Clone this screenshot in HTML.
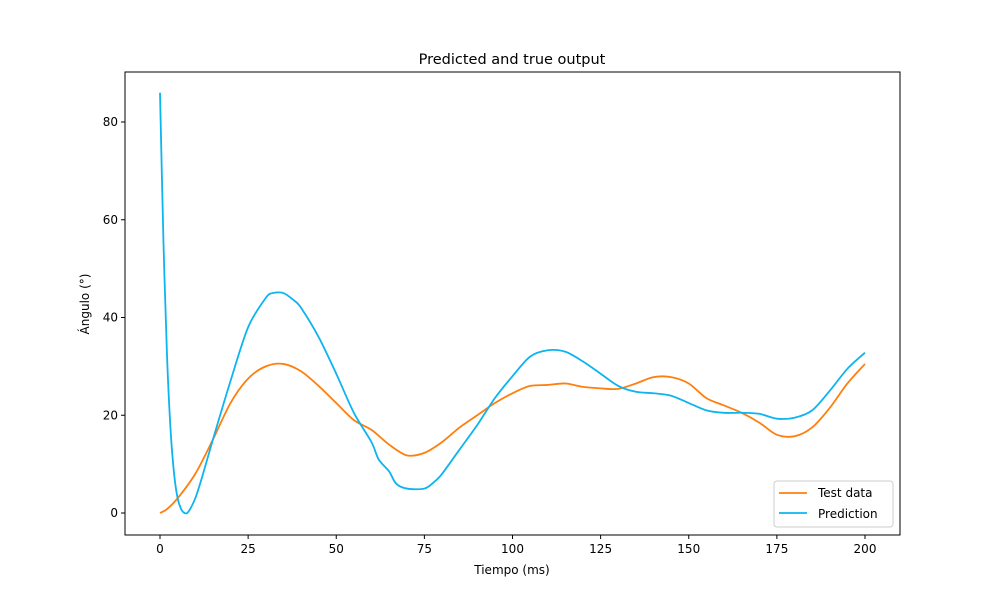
<!DOCTYPE html>
<html><head><meta charset="utf-8"><style>
body{margin:0;background:#fff}
svg text{font-family:"DejaVu Sans","Liberation Sans",sans-serif;fill:#000}
</style></head><body>
<svg id="chart" width="1000" height="600" xmlns="http://www.w3.org/2000/svg"></svg>
<script>
const xTicks=[0,25,50,75,100,125,150,175,200];
const yTicks=[0,20,40,60,80];
const testT=[0,2,5,10,15,20,25,30,35,40,45,50,55,60,65,70,75,80,85,90,95,100,105,110,115,120,125,130,135,140,145,150,155,160,165,170,175,180,185,190,195,200];
const testV=[0,0.8,3,8,15,22.5,27.5,30,30.5,29,26,22.5,19,17,14,11.8,12.3,14.5,17.5,20,22.5,24.5,26,26.2,26.5,25.8,25.5,25.4,26.5,27.8,27.8,26.5,23.5,22,20.5,18.5,16,15.7,17.5,21.5,26.5,30.5];
const predT=[0,1,2,3,4,5,6,7,8,10,12,15,20,25,30,32,35,38,40,45,50,55,60,62,65,67,70,75,78,80,85,90,95,100,105,110,115,120,125,130,135,140,145,150,155,160,165,170,175,180,185,190,195,200];
const predV=[86,55,32,17,8,3,0.8,0,0.2,3,7.5,15,27,38,44,45,45,43.5,42,36,28.5,20.5,14.5,11,8.5,6,5,5,6.5,8,13,18,23.5,28,32,33.3,33,31,28.5,26,24.8,24.5,24,22.5,21,20.5,20.5,20.3,19.3,19.5,21,25,29.5,32.8];
const L=125,R=900,T=72,B=535;
const xs=v=>160+v*3.525, ys=v=>513-v*4.8875;
const svg=document.getElementById('chart');const NS='http://www.w3.org/2000/svg';
function mk(tag,at,txt){const e=document.createElementNS(NS,tag);for(const k in at)e.setAttribute(k,at[k]);if(txt!=null)e.textContent=txt;svg.appendChild(e);return e;}
function smooth(p){let d='M'+p[0][0]+','+p[0][1];
for(let i=0;i<p.length-1;i++){const p0=p[Math.max(i-1,0)],p1=p[i],p2=p[i+1],p3=p[Math.min(i+2,p.length-1)];
const t=0.15;
d+=' C'+(p1[0]+(p2[0]-p0[0])*t)+','+(p1[1]+(p2[1]-p0[1])*t)+' '+(p2[0]-(p3[0]-p1[0])*t)+','+(p2[1]-(p3[1]-p1[1])*t)+' '+p2[0]+','+p2[1];}
return d;}
function line(t,v,c,name){const e=mk('path',{d:smooth(t.map((x,i)=>[xs(x),ys(v[i])])),fill:'none',stroke:c,'stroke-width':1.8,'stroke-linejoin':'round'});

}
line(testT,testV,'#ff7f0e','test-data-line');
line(predT,predV,'#0cb4f0','prediction-line');
const fr=mk('rect',{x:L,y:T,width:R-L,height:B-T,fill:'none',stroke:'#000','stroke-width':1});


xTicks.forEach(v=>{mk('line',{x1:xs(v),x2:xs(v),y1:B,y2:B+4,stroke:'#000'});
const t=mk('text',{x:xs(v),y:B+18,'text-anchor':'middle','font-size':12},v);

});
yTicks.forEach(v=>{mk('line',{x1:L-4,x2:L,y1:ys(v),y2:ys(v),stroke:'#000'});
const t=mk('text',{x:L-7,y:ys(v)+4,'text-anchor':'end','font-size':12},v);

});
let e=mk('text',{x:512,y:64,'text-anchor':'middle','font-size':14.5},'Predicted and true output');


e=mk('text',{x:512,y:574,'text-anchor':'middle','font-size':12},'Tiempo (ms)');


e=mk('text',{x:89,y:304,'text-anchor':'middle','font-size':12,transform:'rotate(-90 89 304)'},'Ángulo (°)');


e=mk('rect',{x:774,y:481,width:119,height:46,rx:3,fill:'#fff',stroke:'#ccc'});


mk('line',{x1:779,x2:807,y1:493,y2:493,stroke:'#ff7f0e','stroke-width':1.8});
e=mk('text',{x:818,y:497,'font-size':12},'Test data');


mk('line',{x1:779,x2:807,y1:513,y2:513,stroke:'#0cb4f0','stroke-width':1.8});
e=mk('text',{x:818,y:518,'font-size':12},'Prediction');


</script>
</body></html>
